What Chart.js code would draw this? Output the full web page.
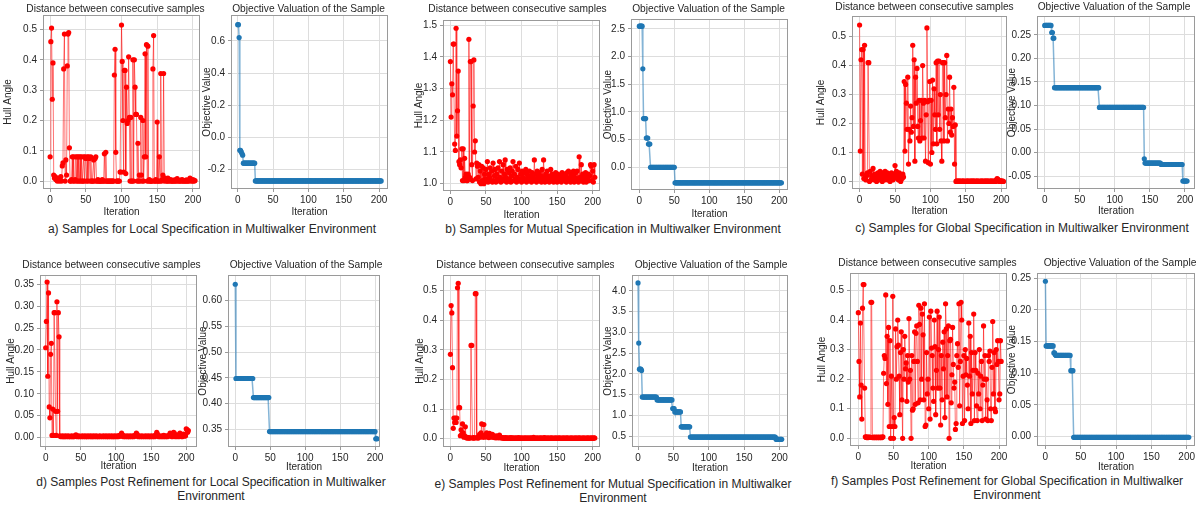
<!DOCTYPE html>
<html>
<head>
<meta charset="utf-8">
<script src="https://cdn.jsdelivr.net/npm/chart.js@4.4.1/dist/chart.umd.min.js"></script>
<style>
    body { margin: 0; background: #fff; }
    #fig {
        position: relative;
        width: 1199px;
        height: 510px;
        overflow: hidden;
        font-family: 'Liberation Sans', Arial, sans-serif;
        color: #262626;
    }
    #fig canvas { position: absolute; }
    .cap {
        position: absolute;
        font-size: 12px;
        line-height: 13.5px;
        text-align: center;
        white-space: nowrap;
        transform: translateX(-50%);
    }
</style>
</head>
<body>
<div id="fig">
    <div class="cap" style="left:212px;top:223px">a) Samples for Local Specification in Multiwalker Environment</div>
    <div class="cap" style="left:613px;top:223px">b) Samples for Mutual Specification in Multiwalker Environment</div>
    <div class="cap" style="left:1022px;top:222px">c) Samples for Global Specification in Multiwalker Environment</div>
    <div class="cap" style="left:211px;top:476px">d) Samples Post Refinement for Local Specification in Multiwalker<br>Environment</div>
    <div class="cap" style="left:613px;top:478px">e) Samples Post Refinement for Mutual Specification in Multiwalker<br>Environment</div>
    <div class="cap" style="left:1007px;top:475px">f) Samples Post Refinement for Global Specification in Multiwalker<br>Environment</div>
</div>
<script>
const iterationTicks = [0, 50, 100, 150, 200]

// a) local specification
const hullLocal = [
    0.08, 0.46, 0.505, 0.27, 0.39, 0.02, 0.01, 0.015, 0.005, 0.01,
    0.0, 0.005, 0.01, 0.0, 0.005, 0.015, 0.0, 0.05, 0.06, 0.37,
    0.485, 0.0, 0.07, 0.02, 0.38, 0.485, 0.49, 0.11, 0.0, 0.0,
    0.005, 0.08, 0.0, 0.08, 0.0, 0.005, 0.08, 0.0, 0.08, 0.0,
    0.08, 0.0, 0.08, 0.0, 0.08, 0.0, 0.0, 0.08, 0.0, 0.08,
    0.075, 0.0, 0.08, 0.0, 0.08, 0.075, 0.0, 0.08, 0.0, 0.0,
    0.0, 0.07, 0.0, 0.075, 0.08, 0.0, 0.0, 0.005, 0.0, 0.0,
    0.0, 0.0, 0.0, 0.005, 0.0, 0.0, 0.09, 0.0, 0.095, 0.0,
    0.0, 0.0, 0.0, 0.0, 0.0, 0.0, 0.0, 0.0, 0.0, 0.0,
    0.35, 0.435, 0.095, 0.0, 0.0, 0.0, 0.0, 0.0, 0.03, 0.03,
    0.515, 0.395, 0.2, 0.03, 0.365, 0.365, 0.025, 0.31, 0.19, 0.2,
    0.41, 0.21, 0.0, 0.21, 0.0, 0.0, 0.4, 0.0, 0.4, 0.31,
    0.22, 0.22, 0.0, 0.125, 0.0, 0.02, 0.0, 0.21, 0.02, 0.0,
    0.2, 0.0, 0.08, 0.42, 0.08, 0.45, 0.0, 0.445, 0.0, 0.005,
    0.0, 0.0, 0.0, 0.0, 0.37, 0.48, 0.0, 0.0, 0.005, 0.0,
    0.195, 0.0, 0.0, 0.08, 0.0, 0.355, 0.0, 0.005, 0.02, 0.355,
    0.0, 0.01, 0.005, 0.0, 0.0, 0.01, 0.0, 0.002, 0.0, 0.005,
    0.0, 0.0, 0.0, 0.003, 0.0, 0.0, 0.005, 0.0, 0.008, 0.0,
    0.002, 0.0, 0.0, 0.003, 0.0, 0.005, 0.0, 0.0, 0.002, 0.0,
    0.0, 0.004, 0.0, 0.0, 0.003, 0.0, 0.01, 0.002, 0.0, 0.005,
    0.0, 0.004, 0.0, 0.002,
]
// [value, number of iterations it is held]
const objectiveLocal = [[0.70, 2], [0.62, 1], [-0.08, 2], [-0.09, 1], [-0.10, 1], [-0.11, 1], [-0.16, 17], [-0.27, 179]]
const hullLocalTicks = [0, 0.1, 0.2, 0.3, 0.4, 0.5]
const objectiveLocalTicks = [-0.2, 0, 0.2, 0.4, 0.6]

// b) mutual specification
const hullMutual = [
    1.385, 1.21, 1.315, 1.28, 1.44, 1.44, 1.125, 1.105, 1.49, 1.15,
    1.23, 1.355, 1.07, 1.06, 1.075, 1.05, 1.11, 1.01, 1.11, 1.01,
    1.08, 1.02, 1.03, 1.01, 1.01, 1.03, 1.455, 1.02, 1.385, 1.385,
    1.06, 1.01, 1.245, 1.39, 1.10, 1.135, 1.015, 1.065, 1.055, 1.02,
    1.06, 1.005, 1.04, 1.0, 1.055, 1.01, 1.05, 1.0, 1.03, 1.015,
    1.045, 1.01, 1.07, 1.005, 1.03, 1.02, 1.05, 1.01, 1.04, 1.005,
    1.065, 1.01, 1.025, 1.045, 1.005, 1.03, 1.015, 1.05, 1.01, 1.07,
    1.02, 1.005, 1.04, 1.015, 1.06, 1.01, 1.03, 1.075, 1.02, 1.005,
    1.045, 1.01, 1.035, 1.015, 1.05, 1.005, 1.025, 1.04, 1.07, 1.01,
    1.03, 1.015, 1.055, 1.005, 1.02, 1.045, 1.01, 1.065, 1.015, 1.03,
    1.005, 1.04, 1.02, 1.01, 1.035, 1.015, 1.045, 1.005, 1.03, 1.02,
    1.01, 1.04, 1.015, 1.025, 1.005, 1.035, 1.02, 1.01, 1.075, 1.015,
    1.03, 1.005, 1.04, 1.02, 1.01, 1.035, 1.015, 1.025, 1.005, 1.045,
    1.01, 1.075, 1.02, 1.005, 1.03, 1.015, 1.04, 1.01, 1.025, 1.005,
    1.02, 1.045, 1.01, 1.03, 1.015, 1.005, 1.025, 1.01, 1.035, 1.02,
    1.005, 1.03, 1.015, 1.02, 1.01, 1.025, 1.005, 1.035, 1.015, 1.02,
    1.03, 1.01, 1.025, 1.005, 1.035, 1.015, 1.04, 1.01, 1.02, 1.005,
    1.03, 1.015, 1.025, 1.04, 1.005, 1.02, 1.035, 1.01, 1.04, 1.015,
    1.005, 1.085, 1.02, 1.01, 1.06, 1.015, 1.03, 1.005, 1.025, 1.01,
    1.035, 1.005, 1.02, 1.015, 1.03, 1.01, 1.025, 1.06, 1.055, 1.01,
    1.04, 1.005, 1.06, 1.02,
]
const objectiveMutual = [[2.55, 5], [1.78, 1], [0.88, 4], [0.53, 3], [0.42, 3], [0.0, 35], [-0.28, 153]]
const hullMutualTicks = [1.0, 1.1, 1.2, 1.3, 1.4, 1.5]
const objectiveMutualTicks = [0, 0.5, 1.0, 1.5, 2.0, 2.5]

// c) global specification
const hullGlobal = [
    0.54, 0.105, 0.42, 0.455, 0.025, 0.455, 0.01, 0.47, 0.01, 0.005,
    0.02, 0.03, 0.41, 0.41, 0.0, 0.035, 0.005, 0.02, 0.01, 0.045,
    0.02, 0.005, 0.025, 0.01, 0.0, 0.015, 0.03, 0.005, 0.02, 0.035,
    0.01, 0.025, 0.0, 0.03, 0.015, 0.005, 0.035, 0.02, 0.01, 0.03,
    0.005, 0.015, 0.025, 0.0, 0.01, 0.03, 0.02, 0.005, 0.025, 0.015,
    0.055, 0.02, 0.035, 0.01, 0.025, 0.005, 0.03, 0.015, 0.0, 0.02,
    0.01, 0.025, 0.015, 0.345, 0.105, 0.335, 0.27, 0.18, 0.36, 0.06,
    0.18, 0.14, 0.26, 0.17, 0.22, 0.47, 0.19, 0.42, 0.07, 0.36,
    0.27, 0.39, 0.19, 0.15, 0.28, 0.14, 0.21, 0.28, 0.15, 0.4,
    0.27, 0.15, 0.28, 0.07, 0.23, 0.53, 0.275, 0.065, 0.28, 0.345,
    0.06, 0.28, 0.1, 0.35, 0.13, 0.32, 0.23, 0.18, 0.41, 0.13,
    0.415, 0.23, 0.415, 0.18, 0.3, 0.14, 0.07, 0.41, 0.41, 0.14,
    0.41, 0.22, 0.3, 0.435, 0.14, 0.25, 0.2, 0.36, 0.17, 0.25,
    0.16, 0.22, 0.19, 0.325, 0.06, 0.195, 0.0, 0.002, 0.0, 0.001,
    0.0, 0.002, 0.0, 0.0, 0.001, 0.0, 0.002, 0.0, 0.0, 0.001,
    0.0, 0.0, 0.002, 0.0, 0.001, 0.0, 0.0, 0.002, 0.0, 0.001,
    0.0, 0.002, 0.0, 0.0, 0.001, 0.0, 0.002, 0.0, 0.0, 0.001,
    0.0, 0.0, 0.002, 0.0, 0.001, 0.0, 0.0, 0.002, 0.0, 0.001,
    0.0, 0.002, 0.0, 0.0, 0.001, 0.0, 0.002, 0.0, 0.0, 0.001,
    0.0, 0.002, 0.0, 0.005, 0.01, 0.008, 0.002, 0.0, 0.003, 0.0,
    0.002, 0.0, 0.001, 0.0,
]
const objectiveGlobal = [[0.27, 10], [0.255, 2], [0.243, 2], [0.138, 64], [0.096, 64], [-0.013, 1], [-0.022, 23], [-0.025, 31], [-0.06, 7]]
const hullGlobalTicks = [0, 0.1, 0.2, 0.3, 0.4, 0.5]
const objectiveGlobalTicks = [-0.05, 0, 0.05, 0.10, 0.15, 0.20, 0.25]

// d) local specification after refinement
const hullLocalRefined = [
    0.205, 0.265, 0.355, 0.14, 0.33, 0.07, 0.045, 0.19, 0.215, 0.005,
    0.065, 0.005, 0.285, 0.285, 0.06, 0.005, 0.31, 0.06, 0.285, 0.23,
    0.004, 0.003, 0.002, 0.003, 0.004, 0.002, 0.003, 0.002, 0.004, 0.003,
    0.002, 0.003, 0.004, 0.002, 0.003, 0.002, 0.003, 0.004, 0.002, 0.003,
    0.002, 0.004, 0.003, 0.006, 0.003, 0.002, 0.003, 0.004, 0.002, 0.003,
    0.003, 0.002, 0.004, 0.003, 0.002, 0.003, 0.004, 0.002, 0.003, 0.002,
    0.004, 0.003, 0.002, 0.003, 0.004, 0.002, 0.003, 0.002, 0.004, 0.003,
    0.002, 0.003, 0.004, 0.002, 0.003, 0.002, 0.003, 0.004, 0.002, 0.003,
    0.003, 0.002, 0.004, 0.003, 0.002, 0.003, 0.004, 0.002, 0.003, 0.002,
    0.004, 0.003, 0.002, 0.003, 0.004, 0.002, 0.003, 0.002, 0.004, 0.003,
    0.002, 0.003, 0.004, 0.002, 0.003, 0.005, 0.003, 0.004, 0.01, 0.007,
    0.003, 0.002, 0.004, 0.003, 0.002, 0.003, 0.004, 0.002, 0.003, 0.002,
    0.004, 0.003, 0.002, 0.003, 0.004, 0.002, 0.003, 0.005, 0.004, 0.01,
    0.008, 0.003, 0.002, 0.004, 0.003, 0.002, 0.003, 0.004, 0.002, 0.003,
    0.003, 0.002, 0.004, 0.003, 0.002, 0.003, 0.004, 0.002, 0.003, 0.002,
    0.004, 0.003, 0.002, 0.003, 0.004, 0.002, 0.005, 0.004, 0.012, 0.008,
    0.003, 0.002, 0.004, 0.003, 0.002, 0.003, 0.004, 0.002, 0.005, 0.003,
    0.002, 0.004, 0.003, 0.002, 0.003, 0.005, 0.004, 0.01, 0.006, 0.003,
    0.002, 0.004, 0.012, 0.01, 0.003, 0.002, 0.004, 0.003, 0.006, 0.002,
    0.004, 0.01, 0.006, 0.003, 0.002, 0.004, 0.008, 0.003, 0.005, 0.004,
    0.02, 0.018, 0.012, 0.016,
]
const objectiveLocalRefined = [[0.632, 1], [0.449, 25], [0.412, 23], [0.346, 152], [0.332, 3]]
const hullLocalRefinedTicks = [0, 0.05, 0.10, 0.15, 0.20, 0.25, 0.30, 0.35]
const objectiveLocalRefinedTicks = [0.35, 0.40, 0.45, 0.50, 0.55, 0.60]

// e) mutual specification after refinement
const hullMutualRefined = [
    0.285, 0.45, 0.425, 0.24, 0.035, 0.07, 0.055, 0.07, 0.055, 0.07,
    0.51, 0.525, 0.105, 0.105, 0.01, 0.03, 0.015, 0.05, 0.02, 0.005,
    0.01, 0.04, 0.005, 0.002, 0.005, 0.002, 0.003, 0.002, 0.003, 0.315,
    0.315, 0.003, 0.002, 0.004, 0.002, 0.49, 0.49, 0.003, 0.005, 0.002,
    0.004, 0.015, 0.01, 0.02, 0.05, 0.005, 0.01, 0.048, 0.005, 0.012,
    0.008, 0.02, 0.006, 0.01, 0.004, 0.018, 0.008, 0.012, 0.005, 0.015,
    0.006, 0.01, 0.004, 0.008, 0.003, 0.01, 0.004, 0.006, 0.003, 0.012,
    0.004, 0.005, 0.002, 0.004, 0.002, 0.003, 0.001, 0.004, 0.002, 0.003,
    0.001, 0.002, 0.003, 0.001, 0.002, 0.004, 0.001, 0.002, 0.003, 0.001,
    0.002, 0.001, 0.003, 0.002, 0.001, 0.002, 0.004, 0.001, 0.002, 0.001,
    0.003, 0.001, 0.002, 0.001, 0.002, 0.003, 0.001, 0.002, 0.001, 0.003,
    0.001, 0.002, 0.001, 0.003, 0.002, 0.001, 0.002, 0.005, 0.002, 0.001,
    0.002, 0.001, 0.003, 0.001, 0.002, 0.001, 0.002, 0.003, 0.001, 0.002,
    0.001, 0.002, 0.004, 0.002, 0.001, 0.002, 0.001, 0.003, 0.001, 0.002,
    0.001, 0.002, 0.003, 0.001, 0.002, 0.001, 0.002, 0.001, 0.003, 0.001,
    0.002, 0.001, 0.002, 0.003, 0.001, 0.002, 0.001, 0.002, 0.001, 0.003,
    0.001, 0.002, 0.001, 0.002, 0.003, 0.001, 0.002, 0.001, 0.002, 0.001,
    0.003, 0.001, 0.002, 0.001, 0.002, 0.001, 0.003, 0.001, 0.002, 0.001,
    0.002, 0.003, 0.001, 0.002, 0.001, 0.002, 0.001, 0.003, 0.001, 0.002,
    0.001, 0.002, 0.001, 0.003, 0.002, 0.001, 0.002, 0.001, 0.003, 0.002,
    0.001, 0.002, 0.003, 0.002,
]
const objectiveMutualRefined = [[4.19, 1], [2.74, 1], [2.11, 3], [2.08, 1], [1.44, 21], [1.37, 22], [1.16, 3], [1.08, 9], [0.72, 13], [0.475, 121], [0.42, 9]]
const hullMutualRefinedTicks = [0, 0.1, 0.2, 0.3, 0.4, 0.5]
const objectiveMutualRefinedTicks = [0.5, 1.0, 1.5, 2.0, 2.5, 3.0, 3.5, 4.0]

// f) global specification after refinement
const hullGlobalRefined = [
    0.425, 0.26, 0.14, 0.39, 0.18, 0.065, 0.44, 0.52, 0.52, 0.17,
    0.005, 0.003, 0.005, 0.002, 0.004, 0.003, 0.004, 0.003, 0.46, 0.46,
    0.003, 0.002, 0.004, 0.003, 0.002, 0.004, 0.003, 0.002, 0.004, 0.003,
    0.002, 0.004, 0.003, 0.002, 0.004, 0.005, 0.22, 0.28, 0.27, 0.485,
    0.185, 0.345, 0.115, 0.375, 0.04, 0.33, 0.0, 0.21, 0.04, 0.48,
    0.0, 0.07, 0.04, 0.37, 0.2, 0.31, 0.4, 0.315, 0.21, 0.08,
    0.29, 0.36, 0.13, 0.0, 0.3, 0.2, 0.345, 0.235, 0.255, 0.125,
    0.28, 0.19, 0.405, 0.2, 0.23, 0.0, 0.28, 0.095, 0.1, 0.26,
    0.36, 0.115, 0.355, 0.38, 0.26, 0.12, 0.45, 0.385, 0.13, 0.44,
    0.2, 0.42, 0.35, 0.13, 0.455, 0.04, 0.045, 0.29, 0.15, 0.2,
    0.1, 0.41, 0.065, 0.43, 0.305, 0.28, 0.17, 0.125, 0.4, 0.31,
    0.08, 0.23, 0.43, 0.17, 0.3, 0.41, 0.17, 0.045, 0.28, 0.13,
    0.325, 0.235, 0.36, 0.07, 0.455, 0.37, 0.14, 0.28, 0.38, 0.0,
    0.33, 0.335, 0.12, 0.215, 0.375, 0.25, 0.17, 0.19, 0.03, 0.05,
    0.28, 0.32, 0.24, 0.455, 0.11, 0.26, 0.46, 0.4, 0.05, 0.21,
    0.28, 0.06, 0.3, 0.215, 0.27, 0.18, 0.1, 0.39, 0.21, 0.345,
    0.05, 0.29, 0.15, 0.23, 0.42, 0.06, 0.29, 0.23, 0.11, 0.06,
    0.22, 0.15, 0.3, 0.1, 0.21, 0.26, 0.06, 0.18, 0.38, 0.2,
    0.28, 0.065, 0.2, 0.13, 0.06, 0.28, 0.26, 0.295, 0.1, 0.06,
    0.24, 0.395, 0.15, 0.29, 0.1, 0.09, 0.3, 0.25, 0.33, 0.26,
    0.13, 0.15, 0.33, 0.26,
]
const objectiveGlobalRefined = [[0.245, 1], [0.143, 11], [0.132, 2], [0.129, 1], [0.128, 21], [0.104, 4], [-0.001, 164]]
const hullGlobalRefinedTicks = [0, 0.1, 0.2, 0.3, 0.4, 0.5]
const objectiveGlobalRefinedTicks = [0, 0.05, 0.10, 0.15, 0.20, 0.25]

function expandSteps(steps) {
    const out = []
    steps.forEach(([value, count]) => {
        for (let i = 0; i < count; i++) out.push(value)
    })
    return out
}

// plot boxes are [left, top, right, bottom] in page pixels
const panels = [
    { kind: 'hull', values: hullLocal, yTicks: hullLocalTicks, dec: 1, box: [43, 15, 200, 189], xRange: [-10, 210], yRange: [-0.026, 0.548], yTitleDx: 35, xTitleDy: 23, titleGap: 6, titleDx: -6 },
    { kind: 'objective', values: expandSteps(objectiveLocal), yTicks: objectiveLocalTicks, dec: 1, box: [231, 15, 388, 189], xRange: [-9.5, 212.7], yRange: [-0.32, 0.76], yTitleDx: 24, xTitleDy: 23, titleGap: 6, titleDx: -1 },
    { kind: 'hull', values: hullMutual, yTicks: hullMutualTicks, dec: 1, box: [443, 20, 600, 191], xRange: [-10.4, 210.3], yRange: [0.977, 1.516], yTitleDx: 24, xTitleDy: 24, titleGap: 11, titleDx: -4 },
    { kind: 'objective', values: expandSteps(objectiveMutual), yTicks: objectiveMutualTicks, dec: 1, box: [631, 19, 788, 190], xRange: [-11.9, 212.4], yRange: [-0.41, 2.68], yTitleDx: 23, xTitleDy: 24, titleGap: 10, titleDx: -1 },
    { kind: 'hull', values: hullGlobal, yTicks: hullGlobalTicks, dec: 1, box: [852, 16, 1007, 189], xRange: [-10.7, 208], yRange: [-0.026, 0.571], yTitleDx: 31, xTitleDy: 22, titleGap: 9, titleDx: -5 },
    { kind: 'objective', values: expandSteps(objectiveGlobal), yTicks: objectiveGlobalTicks, dec: 2, box: [1037, 16, 1195, 189], xRange: [-11, 214.3], yRange: [-0.077, 0.29], yTitleDx: 25, xTitleDy: 22, titleGap: 9, titleDx: -2 },
    { kind: 'hull', values: hullLocalRefined, yTicks: hullLocalRefinedTicks, dec: 2, box: [40, 275, 197, 447], xRange: [-8.1, 215.3], yRange: [-0.0215, 0.371], yTitleDx: 29, xTitleDy: 19, titleGap: 10, titleDx: -7 },
    { kind: 'objective', values: expandSteps(objectiveLocalRefined), yTicks: objectiveLocalRefinedTicks, dec: 2, box: [228, 275, 380, 447], xRange: [-10.4, 207.1], yRange: [0.316, 0.65], yTitleDx: 25, xTitleDy: 20, titleGap: 10, titleDx: 2 },
    { kind: 'hull', values: hullMutualRefined, yTicks: hullMutualRefinedTicks, dec: 1, box: [443, 275, 600, 447], xRange: [-10.4, 210.3], yRange: [-0.028, 0.553], yTitleDx: 23, xTitleDy: 21, titleGap: 10, titleDx: 4 },
    { kind: 'objective', values: expandSteps(objectiveMutualRefined), yTicks: objectiveMutualRefinedTicks, dec: 1, box: [632, 275, 788, 447], xRange: [-8.5, 211.9], yRange: [0.235, 4.38], yTitleDx: 24, xTitleDy: 21, titleGap: 10, titleDx: 1 },
    { kind: 'hull', values: hullGlobalRefined, yTicks: hullGlobalRefinedTicks, dec: 1, box: [850, 273, 1007, 446], xRange: [-11.8, 211.3], yRange: [-0.026, 0.559], yTitleDx: 28, xTitleDy: 20, titleGap: 10, titleDx: -1 },
    { kind: 'objective', values: expandSteps(objectiveGlobalRefined), yTicks: objectiveGlobalRefinedTicks, dec: 2, box: [1037, 273, 1195, 446], xRange: [-11.9, 211.8], yRange: [-0.0147, 0.258], yTitleDx: 25, xTitleDy: 21, titleGap: 10, titleDx: 4 },
]

const textColor = '#262626'
const gridColor = '#dddddd'
const frameColor = '#9a9a9a'
const fontFamily = "'Liberation Sans', Arial, sans-serif"

const framePlugin = {
    id: 'frame',
    afterDatasetsDraw(chart) {
        const { ctx, chartArea: a } = chart
        ctx.save()
        ctx.strokeStyle = frameColor
        ctx.lineWidth = 1
        ctx.strokeRect(Math.round(a.left) + 0.5, Math.round(a.top) + 0.5, Math.round(a.right - a.left) - 1, Math.round(a.bottom - a.top) - 1)
        ctx.restore()
    },
}

// subplot title, centred over the plot without being squeezed to its width
const panelTitlePlugin = {
    id: 'panelTitle',
    afterDraw(chart, args, opts) {
        const { ctx, chartArea: a } = chart
        ctx.save()
        ctx.font = '10.2px ' + fontFamily
        ctx.fillStyle = textColor
        ctx.textAlign = 'center'
        ctx.textBaseline = 'middle'
        ctx.fillText(opts.text, (a.left + a.right) / 2 + opts.dx, a.top - opts.gap)
        ctx.restore()
    },
}

function formatTick(v, dec) {
    const s = Math.abs(v).toFixed(dec)
    return v < -1e-9 ? '-' + s : s
}

function drawPanel(p) {
    const fig = document.getElementById('fig')
    const [left, top, right, bottom] = p.box
    const topH = p.titleGap + 7
    const yW = p.yTitleDx + 6
    const xH = p.xTitleDy + 6
    const rightPad = 14

    const canvas = document.createElement('canvas')
    canvas.width = yW + (right - left) + rightPad
    canvas.height = topH + (bottom - top) + xH
    canvas.style.left = (left - yW) + 'px'
    canvas.style.top = (top - topH) + 'px'
    fig.appendChild(canvas)

    const isHull = p.kind === 'hull'
    const dataset = isHull
        ? {
            data: p.values.map((y, x) => ({ x, y })),
            borderColor: 'rgba(255, 0, 0, 0.55)',
            borderWidth: 1,
            pointRadius: 2.6,
            pointBackgroundColor: '#ff0000',
            pointBorderWidth: 0,
        }
        : {
            data: p.values.map((y, x) => ({ x, y })),
            borderColor: 'rgba(31, 119, 180, 0.55)',
            borderWidth: 1.5,
            pointRadius: 2.6,
            pointBackgroundColor: '#1f77b4',
            pointBorderWidth: 0,
        }

    const tickFont = { size: 10, family: fontFamily }
    const labelFont = { size: 10, family: fontFamily }
    const grid = { color: gridColor, drawTicks: true, tickLength: 3, tickColor: frameColor, tickWidth: 1 }

    new Chart(canvas.getContext('2d'), {
        type: 'line',
        data: { datasets: [dataset] },
        options: {
            responsive: false,
            maintainAspectRatio: false,
            animation: false,
            devicePixelRatio: 1,
            events: [],
            layout: { padding: { left: 0, top: topH, right: rightPad, bottom: 0 } },
            elements: { line: { tension: 0 } },
            scales: {
                x: {
                    type: 'linear',
                    min: p.xRange[0],
                    max: p.xRange[1],
                    afterBuildTicks: (axis) => {
                        axis.ticks = iterationTicks.map((v) => ({ value: v }))
                    },
                    afterFit: (axis) => {
                        axis.height = xH
                        axis.paddingLeft = 0
                        axis.paddingRight = 0
                    },
                    grid: grid,
                    border: { display: false },
                    ticks: {
                        font: tickFont,
                        color: textColor,
                        padding: 2,
                        maxRotation: 0,
                        autoSkip: false,
                        callback: (v) => String(v),
                    },
                    title: { display: true, text: 'Iteration', font: labelFont, color: textColor, padding: 0 },
                },
                y: {
                    type: 'linear',
                    min: p.yRange[0],
                    max: p.yRange[1],
                    afterBuildTicks: (axis) => {
                        axis.ticks = p.yTicks.map((v) => ({ value: v }))
                    },
                    afterFit: (axis) => {
                        axis.width = yW
                        axis.paddingTop = 0
                        axis.paddingBottom = 0
                    },
                    grid: grid,
                    border: { display: false },
                    ticks: {
                        font: tickFont,
                        color: textColor,
                        padding: 3,
                        autoSkip: false,
                        callback: (v) => formatTick(v, p.dec),
                    },
                    title: {
                        display: true,
                        text: isHull ? 'Hull Angle' : 'Objective Value',
                        font: labelFont,
                        color: textColor,
                        padding: 0,
                    },
                },
            },
            plugins: {
                legend: { display: false },
                tooltip: { enabled: false },
                title: { display: false },
                panelTitle: {
                    text: isHull ? 'Distance between consecutive samples' : 'Objective Valuation of the Sample',
                    dx: p.titleDx,
                    gap: p.titleGap,
                },
            },
        },
        plugins: [framePlugin, panelTitlePlugin],
    })
}

panels.forEach(drawPanel)
</script>
</body>
</html>
